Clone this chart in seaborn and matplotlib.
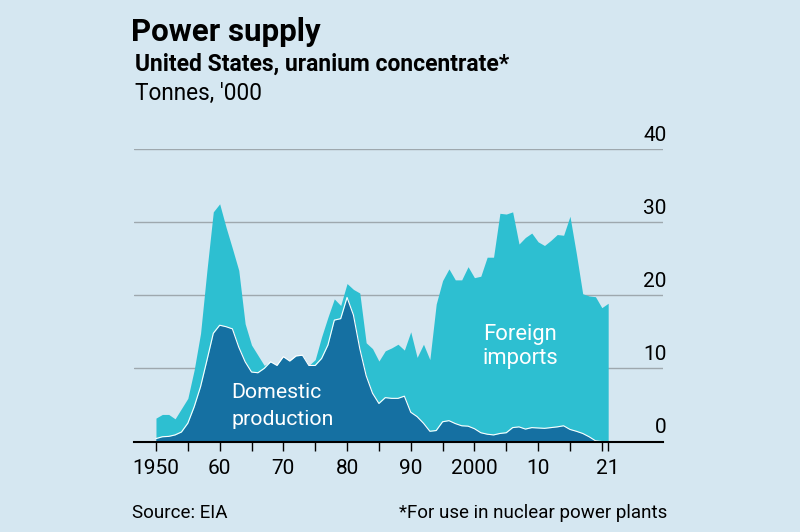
import numpy as np
import pandas as pd
import matplotlib
matplotlib.use("Agg")
import matplotlib.pyplot as plt
import matplotlib.transforms as mtransforms
import seaborn as sns

# === DATA (tonnes, '000) ===
years = list(range(1950, 2022))
domestic = [0.4, 0.65, 0.7, 0.9, 1.3, 2.5, 4.75, 7.5, 11.1, 14.8,
            15.9, 15.7, 15.4, 12.9, 10.9, 9.5, 9.4, 10.0, 10.9, 10.4,
            11.6, 11.0, 11.7, 11.8, 10.4, 10.4, 11.35, 13.2, 16.6, 16.8,
            19.7, 17.3, 12.7, 9.0, 6.6, 5.2, 6.0, 5.9, 5.9, 6.2,
            4.0, 3.4, 2.5, 1.4, 1.5, 2.7, 2.85, 2.45, 2.15, 2.1,
            1.75, 1.2, 1.0, 0.9, 1.1, 1.2, 1.9, 2.0, 1.7, 1.9,
            1.85, 1.8, 1.9, 2.0, 2.15, 1.65, 1.4, 1.1, 0.65, 0.1,
            0.0, 0.0]
imports = [2.8, 3.05, 3.0, 2.2, 3.2, 3.4, 5.05, 7.3, 12.3, 16.6,
           16.6, 13.6, 11.0, 10.5, 5.2, 3.7, 2.4, 0.4, 0.0, 0.0,
           0.0, 0.0, 0.0, 0.0, 0.0, 0.8, 2.95, 3.8, 2.9, 1.8,
           1.9, 3.5, 7.6, 4.5, 6.1, 5.8, 6.4, 6.9, 7.4, 6.3,
           11.0, 8.1, 10.8, 9.8, 17.3, 19.3, 20.75, 19.65, 19.95, 21.8,
           20.65, 21.4, 24.2, 24.3, 30.1, 29.9, 29.5, 25.0, 26.2, 26.6,
           25.45, 25.0, 25.6, 26.3, 26.05, 29.15, 24.3, 19.1, 19.25, 19.7,
           18.3, 18.9]

tick_years = list(range(1950, 2021, 5)) + [2021]
tick_labels = ['1950', '', '60', '', '70', '', '80', '', '90', '',
               '2000', '', '10', '', '', '21']
y_levels = [0, 10, 20, 30, 40]

df = pd.DataFrame({'Year': years, 'Domestic': domestic, 'Imports': imports})
df['Total'] = df['Domestic'] + df['Imports']

# === STYLE ===
bg = '#d5e7f1'
dark = '#1570a2'
cyan = '#2dbfd1'
sns.set_theme(style='white', rc={'figure.facecolor': bg, 'axes.facecolor': bg,
                                 'text.color': 'black', 'xtick.color': 'black'})
plt.rcParams['font.family'] = ['Roboto', 'DejaVu Sans']

fig = plt.figure(figsize=(8, 5.32), dpi=100)
ax = fig.add_axes([0.1675, 0.1701, 0.6612, 0.5499])

# gridlines behind the areas
for v in y_levels[1:]:
    ax.axhline(v, color='#9ea8ae', lw=1.0, zorder=0)

ax.fill_between(df['Year'], 0, df['Total'], color=cyan, lw=0, zorder=1)
ax.fill_between(df['Year'], 0, df['Domestic'], color=dark, lw=0, zorder=2)
sns.lineplot(data=df, x='Year', y='Domestic', color='white', lw=0.8, ax=ax, zorder=3)

ax.set_xlim(1946.55, 2029.6)
ax.set_ylim(0, 40)
ax.set_xlabel('')
ax.set_ylabel('')
for s in ['top', 'right', 'left']:
    ax.spines[s].set_visible(False)
ax.spines['bottom'].set_color('black')
ax.spines['bottom'].set_linewidth(1.5)
ax.spines['bottom'].set_zorder(5)

ax.set_xticks(tick_years)
ax.set_xticklabels(tick_labels)
ax.tick_params(axis='x', length=6.5, width=1, color='black', labelcolor='black',
               labelsize=15, pad=6, bottom=True)
ax.set_yticks([])

# y labels above gridlines, right side
trans = mtransforms.blended_transform_factory(ax.transAxes, ax.transData)
for v in y_levels:
    ax.text(1.007, v + 0.6, str(v), transform=trans, ha='right', va='bottom',
            fontsize=15, color='black', clip_on=False)

# annotations
ax.text(1961.8, 5.93, 'Domestic', color='white', fontsize=15.3, va='baseline', zorder=6)
ax.text(1961.8, 2.25, 'production', color='white', fontsize=15.3, va='baseline', zorder=6)
ax.text(2001.3, 13.85, 'Foreign', color='white', fontsize=15.8, va='baseline', zorder=6)
ax.text(2001.3, 10.6, 'imports', color='white', fontsize=15.8, va='baseline', zorder=6)

# titles
fig.text(131 / 800, 1 - 40.7 / 532, 'Power supply', fontsize=22.5, fontweight='bold',
         va='baseline', ha='left')
fig.text(135 / 800, 1 - 70.7 / 532, 'United States, uranium concentrate*', fontsize=16.5,
         fontweight='bold', va='baseline', ha='left')
fig.text(135 / 800, 1 - 100 / 532, "Tonnes, '000", fontsize=16.3, va='baseline', ha='left')

# footer
fig.text(132 / 800, 1 - 517.5 / 532, 'Source: EIA', fontsize=13.5, va='baseline', ha='left')
fig.text(667.5 / 800, 1 - 517.5 / 532, '*For use in nuclear power plants', fontsize=13.5,
         va='baseline', ha='right')

fig.savefig('out.png', dpi=100, facecolor=bg)
